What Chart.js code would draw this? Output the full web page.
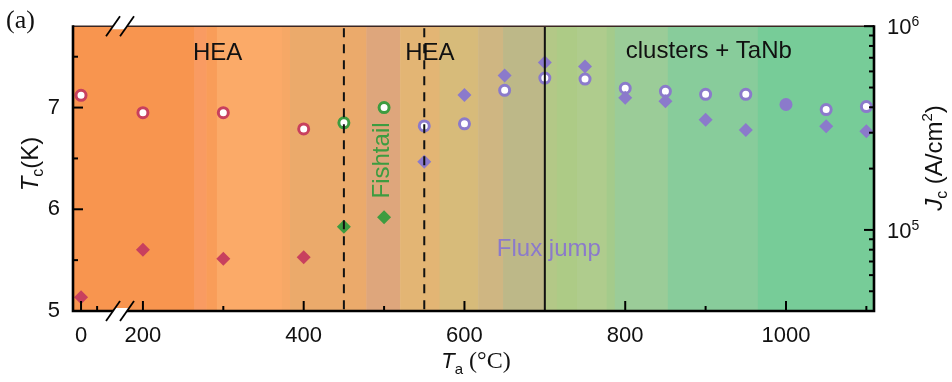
<!DOCTYPE html>
<html>
<head>
<meta charset="utf-8">
<script src="https://cdn.jsdelivr.net/npm/chart.js@4.4.1/dist/chart.umd.min.js"></script>
<style>
  html, body { margin: 0; padding: 0; background: #fff; }
  canvas { display: block; }
</style>
</head>
<body>
<canvas id="chart" width="952" height="382"></canvas>
<script>
// ---- data -------------------------------------------------------------
// HEA samples (as-cast and low annealing temperatures)
const heaTemp = [0, 200, 300, 400];
const heaTc   = [7.12, 6.95, 6.95, 6.79];
const heaJc   = [46700, 79900, 72200, 73500];

// samples showing the fishtail effect
const fishTemp = [450, 500];
const fishTc   = [6.85, 7.00];
const fishJc   = [103700, 115300];

// samples showing flux jumps
const fluxTemp = [550, 600, 650, 700, 750, 800, 850, 900, 950, 1000, 1050, 1100];
const fluxTc   = [6.82, 6.84, 7.17, 7.29, 7.28, 7.19, 7.16, 7.13, 7.13, 7.03, 6.98, 7.01];
const fluxJc   = [216000, 460000, 573000, 664000, 635000, 446000, 428000, 347000, 309000, null, 322600, 305000];

// axis ticks
const tempMajorTicks = [0, 200, 400, 600, 800, 1000];
const tempMinorTicks = [20, 300, 500, 900, 1100];
const tcMajorTicks   = [5, 6, 7];
const tcMinorTicks   = [5.5, 6.5, 7.5];
const jcMajorTicks   = [1e5, 1e6];
const jcMinorTicks   = [4e4, 5e4, 6e4, 7e4, 8e4, 9e4, 2e5, 3e5, 4e5, 5e5, 6e5, 7e5, 8e5, 9e5];

// phase boundaries (°C)
const dashedBoundaries = [450, 550];
const solidBoundaries  = [700];

// ---- broken temperature axis -----------------------------------------
// temperatures below 100 °C sit in a short segment left of the break
const BREAK_OFFSET = 123;
function axisPos(t) { return t < 100 ? t + BREAK_OFFSET : t; }

const RED = '#c8405e', GREEN = '#3d9c40', PURPLE = '#8b7acb';
const SANS = '"Liberation Sans", Arial, sans-serif';
const SERIF = '"Liberation Serif", "Times New Roman", serif';

function pts(ts, vs) {
  return ts.map((t, i) => ({ x: axisPos(t), y: vs[i] }));
}

// background colour bands along the temperature axis: [upper edge, colour]
const bands = [
  [264, '#f8954f'], [279, '#f99b62'], [292, '#f99d59'], [373, '#fbaa68'],
  [383, '#f6a866'], [478, '#ebaa6b'], [520, '#dea67c'], [569, '#e3b574'],
  [617, '#d7bb7a'], [648, '#cfb682'], [699, '#bdb888'], [715, '#b3c887'],
  [740, '#adcb86'], [777, '#afcc8d'], [787, '#a4cb8b'], [853, '#9bcc98'],
  [965, '#88cc9b'], [2000, '#77cc98']
];

function richText(ctx, parts, x, y, align) {
  // parts: [text, font, baselineShift]
  let w = 0;
  parts.forEach(p => { ctx.font = p[1]; w += ctx.measureText(p[0]).width; });
  let cx = align === 'center' ? x - w / 2 : x;
  parts.forEach(p => {
    ctx.font = p[1];
    ctx.fillText(p[0], cx, y + (p[2] || 0));
    cx += ctx.measureText(p[0]).width;
  });
}

const decor = {
  id: 'decor',
  beforeDatasetsDraw(chart) {
    const { ctx, chartArea: a, scales: { x } } = chart;
    ctx.save();
    let left = a.left;
    bands.forEach(([edge, col]) => {
      const right = Math.min(x.getPixelForValue(edge), a.right);
      if (right > left) {
        ctx.fillStyle = col;
        ctx.fillRect(left, a.top, right - left + 0.5, a.bottom - a.top);
      }
      left = right;
    });
    ctx.restore();
  },
  afterDatasetsDraw(chart) {
    const { ctx, chartArea: a, scales: { x, yTc, yJc } } = chart;
    ctx.save();

    // annotations
    ctx.textAlign = 'center';
    ctx.textBaseline = 'middle';
    ctx.fillStyle = '#111';
    ctx.font = '24px ' + SANS;
    ctx.fillText('HEA', x.getPixelForValue(293), yTc.getPixelForValue(7.53));
    ctx.fillText('HEA', x.getPixelForValue(557), yTc.getPixelForValue(7.53));
    ctx.fillText('clusters + TaNb', x.getPixelForValue(904), yTc.getPixelForValue(7.55));
    ctx.fillStyle = PURPLE;
    ctx.fillText('Flux jump', x.getPixelForValue(705), yTc.getPixelForValue(5.61));
    ctx.save();
    ctx.translate(x.getPixelForValue(498), yTc.getPixelForValue(6.48));
    ctx.rotate(-Math.PI / 2);
    ctx.fillStyle = GREEN;
    ctx.fillText('Fishtail', 0, 0);
    ctx.restore();

    // phase boundaries
    ctx.strokeStyle = '#111';
    ctx.lineWidth = 2;
    ctx.setLineDash([9, 7]);
    dashedBoundaries.forEach(t => {
      const px = x.getPixelForValue(axisPos(t));
      ctx.beginPath(); ctx.moveTo(px, a.top + 2); ctx.lineTo(px, a.bottom); ctx.stroke();
    });
    ctx.setLineDash([]);
    solidBoundaries.forEach(t => {
      const px = x.getPixelForValue(axisPos(t));
      ctx.beginPath(); ctx.moveTo(px, a.top); ctx.lineTo(px, a.bottom); ctx.stroke();
    });

    // frame
    ctx.strokeStyle = '#3a2622';
    ctx.lineWidth = 1.5;
    ctx.beginPath(); ctx.moveTo(a.left, a.top); ctx.lineTo(a.right, a.top); ctx.stroke();
    ctx.strokeStyle = '#000';
    ctx.lineWidth = 2.6;
    ctx.beginPath();
    ctx.moveTo(a.left, a.top - 1); ctx.lineTo(a.left, a.bottom); ctx.lineTo(a.right, a.bottom); ctx.lineTo(a.right, a.top - 1);
    ctx.stroke();

    // inward tick marks
    ctx.lineWidth = 2;
    const tick = (x1, y1, x2, y2) => { ctx.beginPath(); ctx.moveTo(x1, y1); ctx.lineTo(x2, y2); ctx.stroke(); };
    tempMajorTicks.forEach(t => { const p = x.getPixelForValue(axisPos(t)); tick(p, a.bottom, p, a.bottom - 10); });
    tempMinorTicks.forEach(t => { const p = x.getPixelForValue(axisPos(t)); tick(p, a.bottom, p, a.bottom - 5); });
    tcMajorTicks.forEach(v => { const p = yTc.getPixelForValue(v); tick(a.left, p, a.left + 10, p); });
    tcMinorTicks.forEach(v => { const p = yTc.getPixelForValue(v); tick(a.left, p, a.left + 5, p); });
    jcMajorTicks.forEach(v => { const p = yJc.getPixelForValue(v); tick(a.right, p, a.right - 10, p); });
    jcMinorTicks.forEach(v => { const p = yJc.getPixelForValue(v); tick(a.right, p, a.right - 5, p); });

    // axis break marks
    const cx = (x.getPixelForValue(axisPos(20)) + x.getPixelForValue(200)) / 2;
    [a.bottom, a.top].forEach(yy => {
      ctx.fillStyle = '#fff';
      ctx.beginPath();
      ctx.moveTo(cx - 7 - 2.1, yy + 3); ctx.lineTo(cx + 7 - 2.1, yy + 3);
      ctx.lineTo(cx + 7 + 2.1, yy - 3); ctx.lineTo(cx - 7 + 2.1, yy - 3);
      ctx.closePath(); ctx.fill();
      ctx.strokeStyle = '#000';
      ctx.lineWidth = 1.8;
      [-7, 7].forEach(d => tick(cx + d - 7, yy + 10, cx + d + 7, yy - 10));
    });

    // right axis labels (powers of ten)
    ctx.fillStyle = '#111';
    ctx.textAlign = 'left';
    ctx.textBaseline = 'alphabetic';
    jcMajorTicks.forEach(v => {
      const p = yJc.getPixelForValue(v);
      const exp = Math.round(Math.log10(v));
      richText(ctx, [['10', '22px ' + SANS, 0], [String(exp), '14px ' + SANS, -8]], a.right + 13, p + 8, 'left');
    });

    // axis titles
    ctx.fillStyle = '#111';
    ctx.save();
    ctx.translate(38, 164);
    ctx.rotate(-Math.PI / 2);
    richText(ctx, [['T', 'italic 24px ' + SANS, 0], ['c', '16px ' + SANS, 5], ['(K)', '24px ' + SANS, 0]], 0, 0, 'center');
    ctx.restore();

    ctx.save();
    ctx.translate(942, 158);
    ctx.rotate(-Math.PI / 2);
    richText(ctx, [['J', 'italic 24px ' + SANS, 0], ['c', '16px ' + SANS, 5], [' (A/cm', '24px ' + SANS, 0],
                   ['2', '15px ' + SANS, -10], [')', '24px ' + SANS, 0]], 0, 0, 'center');
    ctx.restore();

    richText(ctx, [['T', 'italic 22px ' + SANS, 0], ['a', '15px ' + SANS, 6], [' (\u00B0C)', '24px ' + SERIF, 0]],
             476, 368, 'center');

    ctx.font = '26px ' + SERIF;
    ctx.textAlign = 'left';
    ctx.fillText('(a)', 6, 28);

    ctx.restore();
  }
};

const circleSet = (data, color, extra) => Object.assign({
  data, yAxisID: 'yTc', pointStyle: 'circle', pointRadius: 5, pointBorderWidth: 3,
  pointBorderColor: color, pointBackgroundColor: '#fff'
}, extra || {});
const diamondSet = (data, color) => ({
  data, yAxisID: 'yJc', pointStyle: 'rectRot', pointRadius: 7, pointBorderWidth: 0,
  pointBackgroundColor: color, pointBorderColor: color
});

new Chart(document.getElementById('chart'), {
  type: 'scatter',
  data: {
    datasets: [
      diamondSet(pts(heaTemp, heaJc), RED),
      diamondSet(pts(fishTemp, fishJc), GREEN),
      diamondSet(pts(fluxTemp, fluxJc), PURPLE),
      circleSet(pts(heaTemp, heaTc), RED),
      circleSet(pts(fishTemp, fishTc), GREEN),
      // where the Jc point coincides with the Tc point the marker is drawn solid
      circleSet(pts(fluxTemp, fluxTc), PURPLE, {
        pointBackgroundColor: ctx => fluxJc[ctx.dataIndex] == null ? PURPLE : '#fff',
        pointRadius: ctx => fluxJc[ctx.dataIndex] == null ? 6.5 : 5,
        pointBorderWidth: ctx => fluxJc[ctx.dataIndex] == null ? 0 : 3
      })
    ]
  },
  plugins: [decor],
  options: {
    responsive: false,
    devicePixelRatio: 1,
    animation: false,
    events: [],
    layout: { padding: { top: 18.5, left: 0, right: 0, bottom: 0 } },
    plugins: { legend: { display: false }, tooltip: { enabled: false } },
    scales: {
      x: {
        type: 'linear', position: 'bottom', min: 113, max: 1109.5,
        grid: { display: false, drawTicks: false }, border: { display: false },
        afterBuildTicks: s => { s.ticks = tempMajorTicks.map(t => ({ value: axisPos(t) })); },
        afterFit: s => { s.height = 71; },
        ticks: {
          autoSkip: false, maxRotation: 0, padding: 12, color: '#111',
          font: { family: SANS, size: 22 },
          callback: v => { const t = tempMajorTicks.find(t => axisPos(t) === v); return t === undefined ? '' : String(t); }
        }
      },
      yTc: {
        type: 'linear', position: 'left', min: 5, max: 7.8,
        grid: { display: false, drawTicks: false }, border: { display: false },
        afterBuildTicks: s => { s.ticks = tcMajorTicks.map(v => ({ value: v })); },
        afterFit: s => { s.width = 73; },
        ticks: { padding: 13, color: '#111', font: { family: SANS, size: 22 }, callback: v => String(v) }
      },
      yJc: {
        type: 'logarithmic', position: 'right', min: 4e4, max: 1e6,
        grid: { display: false, drawTicks: false }, border: { display: false },
        afterFit: s => { s.width = 78; },
        ticks: { display: false }
      }
    }
  }
});
</script>
</body>
</html>
